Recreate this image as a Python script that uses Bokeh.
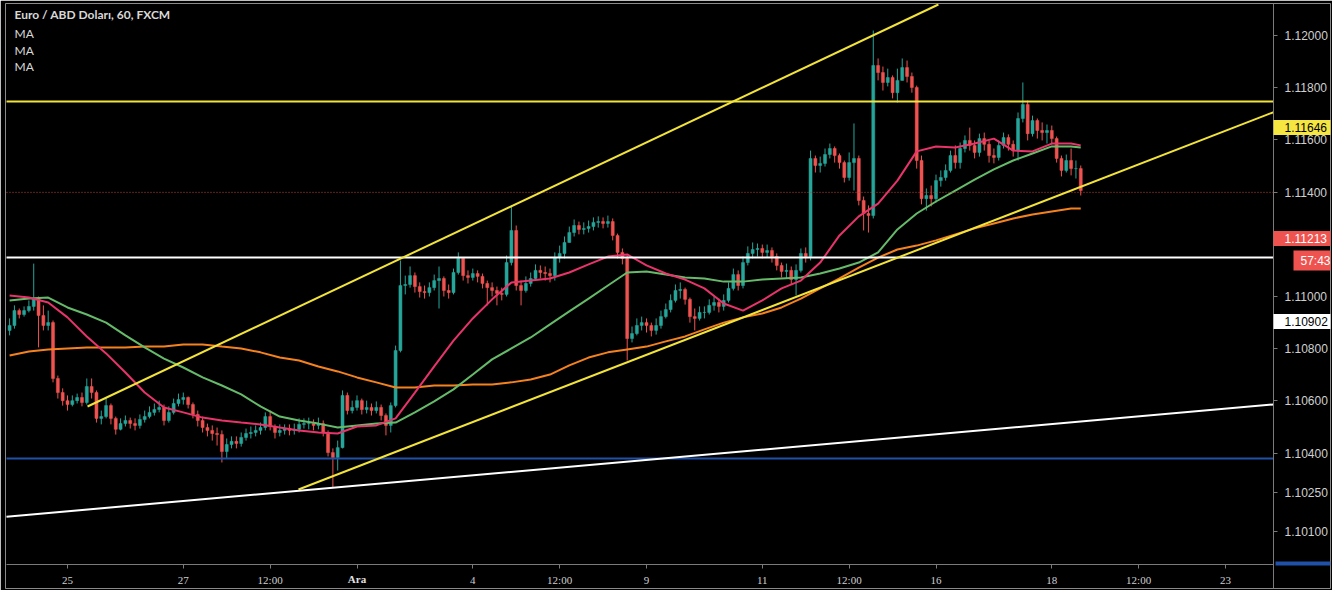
import numpy as np
from bokeh.plotting import figure
from bokeh.models import FixedTicker, Label, Range1d, CustomJSTickFormatter, ColumnDataSource, BoxAnnotation
from bokeh.embed import file_html
from bokeh.resources import INLINE

# ---------------- data (prices in pips above 1.10000) ----------------
# 2-hour EUR/USD candles; hour index 0 = Mon 25 Nov 00:00, first candle = Fri 22 Nov 00:00
FIRST_HOUR = -24
CANDLE_HOURS = 2
first_open_pips = 87.0
close_pips = [
    88.9, 94.6, 93.1, 94.6, 96.2, 99.2, 92.7, 88.9, 90.0, 68.6,
    63.2, 60.1, 58.6, 60.1, 61.3, 59.4, 65.5, 63.2, 53.3, 54.0,
    58.2, 53.3, 49.1, 51.3, 52.5, 51.3, 50.6, 52.9, 54.0, 55.6,
    56.7, 57.5, 52.5, 55.6, 59.0, 60.5, 61.3, 58.6, 54.8, 52.5,
    49.8, 48.7, 47.5, 47.1, 40.6, 43.3, 44.5, 43.7, 46.0, 47.5,
    47.9, 48.7, 49.8, 54.0, 50.2, 47.9, 48.7, 49.4, 48.7, 49.1,
    51.0, 51.3, 51.3, 50.6, 51.3, 47.9, 40.2, 38.3, 42.1, 62.1,
    56.3, 57.5, 60.1, 56.7, 57.5, 56.3, 57.5, 54.4, 50.6, 58.2,
    79.3, 104.2, 104.6, 108.0, 103.8, 101.9, 101.5, 103.4, 106.1, 106.9,
    102.3, 101.5, 109.2, 114.6, 108.0, 107.3, 108.8, 107.7, 105.0, 103.4,
    102.3, 101.2, 100.8, 113.0, 125.3, 104.2, 102.3, 105.0, 106.9, 110.0,
    109.2, 108.8, 108.0, 114.9, 116.5, 120.7, 124.5, 127.2, 125.7, 126.1,
    126.8, 128.4, 128.7, 128.0, 128.7, 123.4, 116.9, 114.6, 83.9, 85.8,
    88.9, 90.0, 88.9, 87.0, 88.9, 92.3, 95.0, 98.5, 102.3, 102.7,
    98.9, 92.3, 91.6, 93.9, 93.9, 96.6, 97.7, 96.2, 98.5, 103.1,
    108.4, 104.2, 113.0, 116.5, 118.0, 118.4, 116.9, 117.6, 115.3, 111.9,
    109.6, 110.0, 106.5, 110.0, 116.5, 115.3, 152.9, 150.2, 151.0, 154.4,
    156.7, 154.0, 151.3, 145.6, 151.3, 152.9, 136.8, 131.8, 131.0, 188.5,
    185.8, 182.0, 183.9, 178.1, 182.8, 187.7, 184.3, 180.1, 152.1, 137.5,
    138.7, 137.5, 144.4, 145.6, 148.3, 154.0, 151.3, 156.7, 159.8, 157.9,
    155.2, 160.5, 158.3, 154.0, 153.3, 157.9, 160.9, 158.3, 155.9, 168.2,
    173.6, 162.4, 167.4, 163.6, 162.8, 163.6, 160.5, 152.9, 148.3, 152.1,
    149.0, 149.0, 140.6,
]
high_pips = [
    91.6, 96.6, 95.4, 96.2, 98.5, 112.6, 100.0, 96.6, 94.6, 90.8,
    69.7, 64.8, 62.1, 62.1, 62.8, 63.2, 68.6, 68.6, 64.0, 56.3,
    60.9, 59.0, 54.0, 53.3, 54.4, 53.6, 53.3, 54.8, 56.3, 57.9,
    59.0, 60.1, 58.6, 57.9, 60.9, 62.8, 63.2, 61.7, 59.4, 56.3,
    54.0, 51.3, 50.6, 49.8, 48.7, 45.6, 46.4, 46.4, 47.9, 49.4,
    50.2, 50.6, 51.7, 55.6, 56.3, 51.0, 51.0, 51.0, 51.0, 51.3,
    53.3, 53.3, 53.6, 52.9, 53.6, 52.5, 48.7, 41.8, 44.8, 64.0,
    63.2, 60.1, 62.1, 60.9, 60.1, 59.0, 59.8, 58.6, 55.2, 59.4,
    81.2, 113.8, 108.0, 111.5, 109.2, 105.4, 104.2, 105.4, 108.4, 111.5,
    107.7, 104.6, 110.7, 116.9, 114.6, 110.0, 110.7, 110.0, 108.8, 106.1,
    105.4, 103.8, 103.4, 115.7, 134.9, 127.2, 106.1, 107.7, 109.2, 112.3,
    111.9, 111.5, 110.7, 116.9, 119.5, 123.0, 126.8, 129.5, 128.7, 128.4,
    129.1, 130.3, 130.7, 130.3, 131.0, 129.9, 124.1, 118.4, 115.7, 88.5,
    91.6, 92.3, 91.6, 90.0, 91.6, 94.6, 97.3, 100.8, 104.6, 105.4,
    103.4, 99.6, 95.4, 96.2, 96.2, 98.9, 100.0, 99.2, 100.8, 105.4,
    110.7, 110.0, 115.3, 119.2, 120.7, 120.3, 119.9, 119.9, 118.8, 116.5,
    113.0, 112.6, 111.5, 112.3, 118.4, 118.8, 155.9, 154.0, 153.6, 156.7,
    158.6, 157.5, 154.8, 152.1, 155.2, 166.3, 154.0, 138.3, 134.9, 201.9,
    191.2, 188.1, 187.3, 184.7, 187.3, 191.2, 190.4, 185.8, 180.8, 154.0,
    141.4, 142.5, 146.7, 148.3, 150.6, 155.9, 157.9, 159.0, 161.7, 164.7,
    159.8, 162.4, 162.8, 159.8, 156.7, 159.8, 162.8, 162.1, 159.8, 170.5,
    182.0, 175.1, 169.3, 168.2, 166.7, 165.9, 165.5, 161.3, 154.0, 154.4,
    156.7, 152.1, 150.2,
]
low_pips = [
    85.1, 87.7, 91.6, 92.3, 93.9, 94.6, 80.5, 87.0, 87.0, 67.1,
    60.9, 58.2, 56.3, 57.9, 59.0, 57.9, 58.6, 60.9, 51.7, 51.0,
    53.3, 51.0, 47.1, 48.7, 50.2, 49.4, 48.7, 49.4, 51.7, 53.3,
    54.4, 55.6, 50.6, 51.7, 54.8, 57.9, 58.6, 57.1, 53.3, 50.2,
    47.9, 46.4, 44.8, 42.9, 36.4, 37.9, 41.8, 41.8, 42.5, 44.8,
    45.6, 46.4, 47.1, 48.7, 48.7, 45.6, 46.4, 47.1, 46.8, 47.1,
    47.9, 49.4, 49.1, 48.7, 49.1, 46.4, 38.7, 26.8, 33.3, 41.8,
    54.8, 55.2, 56.3, 54.8, 55.2, 54.4, 55.2, 52.5, 46.8, 47.9,
    57.5, 78.6, 100.8, 103.4, 101.5, 99.6, 99.2, 100.0, 102.3, 95.4,
    100.0, 99.2, 100.8, 108.4, 106.1, 105.0, 106.1, 105.4, 103.1, 96.6,
    100.0, 96.6, 98.5, 100.0, 111.9, 102.3, 96.6, 101.5, 103.8, 106.1,
    106.9, 106.1, 105.4, 106.1, 113.0, 114.6, 121.5, 123.0, 123.8, 123.8,
    124.5, 125.3, 126.4, 126.1, 126.4, 121.5, 114.6, 112.3, 75.5, 82.4,
    85.1, 87.0, 86.2, 84.7, 85.4, 87.7, 91.6, 93.9, 97.7, 99.2,
    96.9, 90.0, 87.0, 90.8, 91.6, 93.1, 94.6, 93.9, 94.6, 97.7,
    102.3, 102.3, 103.1, 111.9, 114.6, 115.3, 114.6, 114.9, 113.0, 110.0,
    107.3, 106.9, 104.6, 100.4, 109.2, 113.0, 113.8, 147.5, 147.5, 149.8,
    152.9, 151.3, 149.0, 143.7, 144.4, 140.6, 134.9, 125.3, 124.5, 129.9,
    182.8, 178.9, 180.5, 175.9, 174.3, 183.5, 182.0, 178.1, 149.0, 135.3,
    132.9, 134.5, 136.0, 142.1, 144.4, 147.5, 149.0, 149.0, 155.2, 155.9,
    152.9, 153.6, 155.9, 151.3, 151.0, 152.1, 156.7, 155.9, 153.6, 152.1,
    166.7, 159.8, 161.3, 160.5, 159.8, 158.6, 158.3, 151.3, 146.0, 147.5,
    146.4, 145.2, 138.7,
]
# moving averages, every 4th candle (+ last candle)
ma_candle_index = list(range(0, 221, 4)) + [222]
ma_fast_pips = [100.4, 99.6, 97.7, 92.0, 84.7, 78.2, 70.9, 63.2, 57.5, 55.6, 53.6, 52.5, 51.7, 51.0, 49.8,
                48.7, 47.9, 47.5, 50.2, 50.6, 53.3, 63.2, 73.2, 83.1, 91.6, 98.9, 105.4, 106.1, 106.9, 109.2,
                112.3, 115.3, 116.1, 111.9, 108.8, 106.5, 103.1, 97.3, 94.6, 98.5, 103.1, 106.1, 113.0, 123.4,
                130.7, 135.6, 144.4, 155.6, 157.5, 157.1, 158.6, 160.5, 155.9, 155.6, 158.6, 158.6, 157.9]
ma_mid_pips = [98.5, 99.2, 99.6, 95.8, 93.1, 90.0, 85.1, 80.5, 76.2, 72.8, 69.0, 65.9, 62.5, 57.9, 54.0,
               52.5, 51.3, 49.8, 50.6, 51.3, 51.7, 55.6, 59.8, 64.4, 70.1, 75.9, 80.1, 84.3, 89.3, 94.3,
               99.2, 104.2, 109.2, 109.6, 108.4, 107.3, 106.9, 105.7, 105.7, 106.5, 106.9, 107.3, 108.8, 110.7,
               113.0, 116.9, 125.7, 131.8, 136.4, 140.6, 144.8, 148.7, 152.1, 154.8, 157.5, 157.5, 157.1]
ma_slow_pips = [77.4, 78.9, 79.7, 80.1, 80.5, 80.5, 80.5, 80.8, 80.8, 81.6, 81.6, 80.8, 80.1, 78.6, 76.6,
                75.5, 73.2, 71.3, 69.0, 67.1, 65.1, 65.1, 65.9, 65.9, 66.3, 66.3, 67.1, 68.2, 70.1, 73.6,
                76.6, 78.6, 79.7, 80.8, 82.8, 84.7, 87.4, 90.0, 92.0, 93.5, 95.8, 99.2, 103.1, 106.9,
                111.1, 114.9, 118.0, 119.5, 121.5, 123.8, 126.1, 128.0, 129.9, 131.4, 132.6, 133.7, 133.7]

# drawn levels (price)
level_resistance = 1.11747
level_white = 1.11149
level_support = 1.10379
level_last = 1.11399
# trend lines: (hour0, price0, hour1, price1)
channel_upper = (8.3, 1.105785, 361.0, 1.121188)
channel_lower = (95.75, 1.102605, 500.0, 1.117065)
long_support = (-25.3, 1.101563, 500.0, 1.105866)

# axes
tick_hours = [0, 48, 84, 120, 168, 204, 240, 288, 324, 360, 408, 444, 480]
tick_labels = ["25", "27", "12:00", "Ara", "4", "12:00", "9", "11", "12:00", "16", "18", "12:00", "23"]
price_ticks = [1.101, 1.1025, 1.104, 1.106, 1.108, 1.110, 1.114, 1.116, 1.118, 1.120]

# ---------------- build ----------------
BASE = 1.1
def to_price(pips):
    return BASE + np.asarray(pips, dtype=float) / 10000.0

n = min(len(close_pips), len(high_pips), len(low_pips))
close = to_price(close_pips[:n])
opens = np.concatenate([[BASE + first_open_pips / 10000.0], close[:-1]])
high = np.maximum(to_price(high_pips[:n]), np.maximum(opens, close))
low = np.minimum(to_price(low_pips[:n]), np.minimum(opens, close))
hours = FIRST_HOUR + CANDLE_HOURS * np.arange(n)
UP, DOWN = "#26a69a", "#ef5350"
colors = [UP if c >= o else DOWN for o, c in zip(opens, close)]
src = ColumnDataSource(dict(x=hours, o=opens, c=close, h=high, l=low,
                            top=np.maximum(opens, close), bot=np.minimum(opens, close), col=colors))

# screen geometry helpers (annotation placement only)
PX0, PX_PER_H = 67.0, 2.4125
PY0, PX_PER_PRICE = 35.0, 26100.0
def hx(px):
    return (px - PX0) / PX_PER_H
def py(y):
    return 1.12 - (y - PY0) / PX_PER_PRICE

PANE_LEFT, PANE_RIGHT = hx(6), hx(1273)   # price pane edges (hours)
PANE_BOTTOM = py(564)                      # price pane bottom (price)

p = figure(frame_width=1325, frame_height=585, x_range=Range1d(hx(5), hx(1330)), y_range=Range1d(py(588), py(3)),
           y_axis_location="right", toolbar_location=None, output_backend="svg",
           min_border_left=5, min_border_top=3, min_border_right=2, min_border_bottom=2,
           background_fill_color="#000000", border_fill_color="#000000")
p.grid.visible = False
p.outline_line_color = "#8a8a8a"
p.outline_line_width = 1

AX = "#7a7a7a"
for ax in (p.xaxis[0], p.yaxis[0]):
    ax.axis_line_color = AX
    ax.major_tick_line_color = AX
    ax.minor_tick_line_color = None
    ax.major_tick_in = 0
    ax.major_tick_out = 4
    ax.major_label_text_color = "#cfcfcf"
    ax.major_label_text_font_size = "11px"

p.xaxis.fixed_location = PANE_BOTTOM
p.xaxis.bounds = (PANE_LEFT, PANE_RIGHT)
p.xaxis.ticker = FixedTicker(ticks=tick_hours)
p.xaxis.major_label_overrides = {h: (t if t != "Ara" else "") for h, t in zip(tick_hours, tick_labels)}
p.xaxis.major_label_text_font = "Liberation Sans Narrow"
p.xaxis.major_label_standoff = 5
p.yaxis.fixed_location = PANE_RIGHT
p.yaxis.ticker = FixedTicker(ticks=price_ticks)
p.yaxis.formatter = CustomJSTickFormatter(code="return tick.toFixed(5);")
p.yaxis.major_label_text_font = "Liberation Sans"
p.yaxis.major_label_text_font_size = "12px"
p.yaxis.major_label_standoff = 7

# candles
p.segment(x0="x", y0="l", x1="x", y1="h", color="col", line_width=1, source=src)
p.vbar(x="x", width=1.25, top="top", bottom="bot", fill_color="col", line_color="col", line_width=0.5, source=src)

# moving averages
ma_hours = [FIRST_HOUR + CANDLE_HOURS * k for k in ma_candle_index]
p.line(ma_hours, to_price(ma_slow_pips), line_color="#f5821f", line_width=2)
p.line(ma_hours, to_price(ma_mid_pips), line_color="#66bb6a", line_width=2)
p.line(ma_hours, to_price(ma_fast_pips), line_color="#e8336b", line_width=2)

# horizontal levels across the price pane
p.segment(x0=[PANE_LEFT] * 3, x1=[PANE_RIGHT] * 3,
          y0=[level_resistance, level_white, level_support], y1=[level_resistance, level_white, level_support],
          line_color=["#f2e33a", "#ffffff", "#2150a8"], line_width=2)
p.segment(x0=[PANE_LEFT], x1=[PANE_RIGHT], y0=[level_last], y1=[level_last],
          line_color="#c0452c", line_width=1, line_dash="1 2")

# trend lines
for (h0, p0, h1, p1), col in ((channel_upper, "#f2e33a"), (channel_lower, "#f2e33a"), (long_support, "#ffffff")):
    p.line([h0, h1], [p0, p1], line_color=col, line_width=2)

# legend texts
TXT = "#d8d8d8"
p.add_layout(Label(x=hx(14), y=py(14), text="Euro / ABD Doları, 60, FXCM", text_baseline="middle",
                   text_font="Lato", text_font_style="bold", text_font_size="12px", text_color=TXT))
for yy in (33, 50, 66):
    p.add_layout(Label(x=hx(14), y=py(yy), text="MA", text_baseline="middle",
                       text_font="Lato", text_font_size="12px", text_color=TXT))

# price-axis tags
def tag(ytag, text, bg, fg, x_px=1273, left=11):
    p.add_layout(Label(x=hx(x_px), y=py(ytag), text=text, text_align="left", text_baseline="middle",
                       text_font="Liberation Sans", text_font_size="12px", text_color=fg,
                       background_fill_color=bg, padding=dict(left=left, right=12, top=3, bottom=3)))
tag(127, "1.11646", "#f5e642", "#000000")
tag(238, "1.11213", "#ef5350", "#ffffff")
tag(260, "57:43", "#ef5350", "#ffffff", x_px=1293, left=7)
tag(321, "1.10902", "#ffffff", "#000000")
p.add_layout(BoxAnnotation(left=hx(1275), right=hx(1330), top=py(561), bottom=py(565),
                           fill_color="#2150a8", fill_alpha=1.0, line_color=None))

# bold month label
p.add_layout(Label(x=120, y=py(578), text="Ara", text_align="center", text_baseline="middle",
                   text_font="Liberation Sans Narrow", text_font_style="bold", text_font_size="11px",
                   text_color="#e0e0e0"))

open("out.html", "w").write(file_html(p, INLINE))
